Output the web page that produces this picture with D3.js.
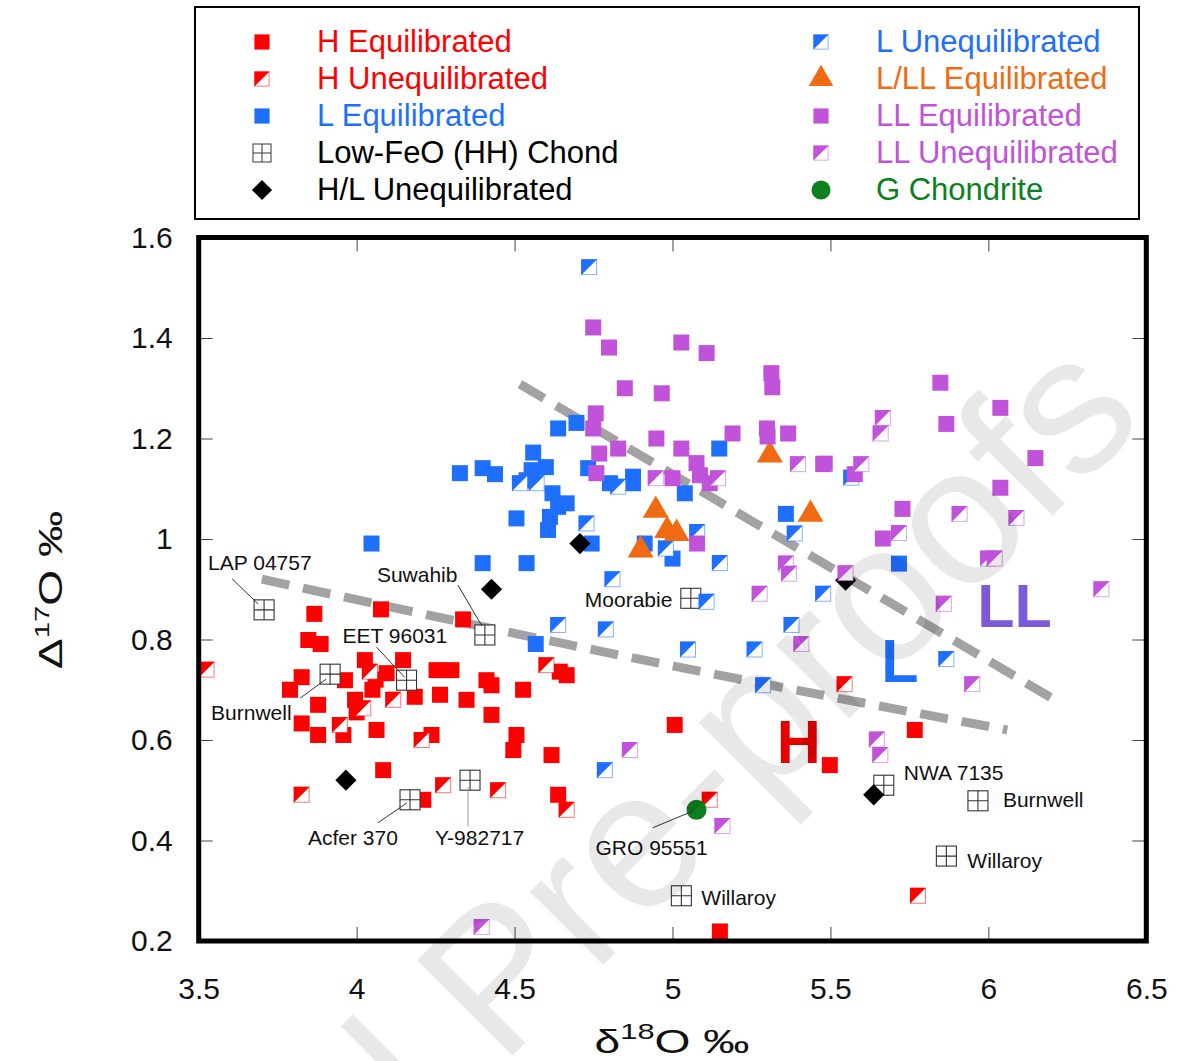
<!DOCTYPE html>
<html>
<head>
<meta charset="utf-8">
<script src="https://cdn.jsdelivr.net/npm/d3@7"></script>
<style>
  body { margin: 0; background: #fff; }
  svg { display: block; font-family: "Liberation Sans", Arial, sans-serif; }
</style>
</head>
<body>
<svg id="chart" width="1178" height="1061"></svg>
<script>
// ---- data (d18O, D17O) ----
const hEquil = [[3.866,0.851],[4.077,0.860],[4.337,0.840],[3.847,0.799],[3.886,0.791],[4.026,0.759],[4.147,0.759],
  [4.253,0.739],[4.30,0.739],[3.826,0.725],[3.789,0.700],[3.963,0.719],[4.095,0.733],[4.06,0.72],[4.05,0.70],[4.0,0.655],
  [3.878,0.670],[3.995,0.680],[4.184,0.686],[4.264,0.690],[4.348,0.680],[4.411,0.719],[4.427,0.709],[4.527,0.700],
  [4.427,0.650],[3.826,0.633],[3.878,0.610],[3.958,0.610],[4.063,0.620],[4.237,0.610],[4.506,0.610],[4.496,0.580],
  [4.617,0.570],[4.643,0.736],[4.665,0.729],[4.084,0.540],[4.211,0.481],[4.638,0.491],[5.007,0.630],[5.498,0.550],
  [5.767,0.620],[5.150,0.219]];
const hUnequil = [[3.525,0.74],[4.042,0.736],[4.021,0.663],[4.116,0.68],[3.947,0.63],[4.206,0.60],[4.601,0.749],
  [4.274,0.51],[4.448,0.50],[3.826,0.491],[4.665,0.461],[5.118,0.481],[5.545,0.711],[5.777,0.29]];
const lEquil = [[4.047,0.991],[4.327,1.131],[4.399,1.141],[4.438,1.129],[4.559,1.172],[4.599,1.143],[4.554,1.137],
  [4.638,1.22],[4.696,1.231],[4.733,1.141],[4.620,1.091],[4.665,1.071],[4.638,1.064],[4.506,1.041],[4.612,1.044],
  [4.606,1.018],[4.538,1.117],[4.802,1.111],[4.875,1.111],[4.875,1.124],[5.039,1.091],[5.148,1.18],[4.744,0.991],
  [4.399,0.952],[4.538,0.952],[4.912,0.991],[5.0,0.961],[5.359,1.05],[5.717,0.951],[4.567,0.791]];
const lUnequil = [[4.736,1.541],[4.517,1.111],[4.570,1.111],[4.828,1.104],[4.728,1.031],[4.81,0.92],[4.979,0.981],
  [5.078,1.014],[5.15,0.952],[5.108,0.875],[5.387,1.011],[5.477,0.891],[4.638,0.829],[4.789,0.82],[5.049,0.78],
  [5.26,0.78],[5.377,0.829],[5.287,0.709],[4.786,0.54],[5.867,0.761],[5.566,1.122]];
const lowFeO = [[3.707,0.859],[4.406,0.809],[4.158,0.719],[3.916,0.731],[4.169,0.481],[4.359,0.52],[5.058,0.882],
  [5.028,0.29],[5.669,0.51],[5.967,0.479],[5.867,0.369]];
const lowFeONames = ["LAP 04757","Suwahib","EET 96031","Burnwell","Acfer 370","Y-982717","Moorabie","Willaroy",
  "NWA 7135","Burnwell","Willaroy"];
const hlUnequil = [[3.966,0.52],[4.427,0.90],[4.707,0.991],[5.548,0.918],[5.637,0.491]];
const lllEquil = [[5.308,1.167],[4.947,1.057],[4.983,1.017],[5.013,1.011],[4.899,0.978],[5.437,1.049]];
const llEquil = [[4.749,1.421],[4.799,1.381],[5.028,1.391],[5.108,1.37],[5.313,1.33],[5.316,1.302],[4.849,1.30],
  [4.966,1.29],[4.757,1.25],[4.749,1.22],[4.768,1.17],[4.828,1.18],[4.759,1.131],[4.949,1.20],[5.028,1.18],
  [5.076,1.151],[5.087,1.127],[5.0,1.121],[5.19,1.21],[5.299,1.22],[5.301,1.204],[5.366,1.21],[5.477,1.149],
  [5.118,1.111],[5.078,0.991],[5.848,1.311],[6.038,1.261],[5.867,1.229],[6.149,1.161],[6.038,1.102],[5.728,1.06],
  [5.666,1.001],[5.482,1.15],[5.577,1.129]];
const llUnequil = [[4.947,1.121],[5.144,1.121],[5.397,1.149],[5.359,0.951],[5.369,0.931],[5.276,0.891],[5.408,0.791],
  [5.548,0.932],[5.666,1.241],[5.659,1.21],[5.598,1.149],[5.717,1.012],[5.909,1.05],[6.089,1.042],[5.999,0.961],
  [6.02,0.961],[5.859,0.871],[6.358,0.90],[5.949,0.711],[5.647,0.601],[5.658,0.57],[4.865,0.58],[5.158,0.429],
  [4.396,0.228]];
const gChondrite = [[5.076,0.461]];
const gNames = ["GRO 95551"];

// group boundaries (dashed)
const boundaryHL = [[3.70,0.92],[5.02,0.745],[6.06,0.62]];
const boundaryLLL = [[4.517,1.308],[6.21,0.68]];

// big group letters: [d18O, D17O] of the text baseline centre
const groupLabels = ["H", "L", "LL"];
const groupLabelPos = [[5.40,0.554],[5.72,0.715],[6.083,0.825]];

const xTicks = [3.5,4,4.5,5,5.5,6,6.5];
const xTickLabels = ["3.5","4","4.5","5","5.5","6","6.5"];
const yTicks = [0.2,0.4,0.6,0.8,1.0,1.2,1.4,1.6];
const yTickLabels = ["0.2","0.4","0.6","0.8","1","1.2","1.4","1.6"];

const legendLeft = ["H Equilibrated","H Unequilibrated","L Equilibrated","Low-FeO (HH) Chond","H/L Unequilibrated"];
const legendRight = ["L Unequilibrated","L/LL Equilibrated","LL Equilibrated","LL Unequilibrated","G Chondrite"];

// colours
const RED = "#ff0000", BLUE = "#1f6fff", PURPLE = "#c053d9", ORANGE = "#f06a12", GREEN = "#0b8020";
const groupColors = ["#e60000", BLUE, "#7b5ad9"];

const svg = d3.select("#chart");
const x = d3.scaleLinear().domain([3.5, 6.5]).range([198.7, 1146.3]);
const y = d3.scaleLinear().domain([0.2, 1.6]).range([941, 237.5]);

// marker painter
function marker(g, type, color) {
  if (type === "sq") {
    g.append("rect").attr("x", -8).attr("y", -8).attr("width", 16).attr("height", 16).attr("fill", color);
  } else if (type === "half") {
    g.append("rect").attr("x", -7.5).attr("y", -7.5).attr("width", 15).attr("height", 15)
      .attr("fill", "#fff").attr("stroke", color).attr("stroke-opacity", 0.55).attr("stroke-width", 1);
    g.append("path").attr("d", "M-8,-8H8L-8,8Z").attr("fill", color);
  } else if (type === "cross") {
    g.append("rect").attr("x", -10).attr("y", -10).attr("width", 20).attr("height", 20)
      .attr("fill", "#fff").attr("stroke", "#333").attr("stroke-width", 1.1);
    g.append("path").attr("d", "M0,-10V10M-10,0H10").attr("stroke", "#333").attr("stroke-width", 1.1);
  } else if (type === "diamond") {
    g.append("rect").attr("x", -7.5).attr("y", -7.5).attr("width", 15).attr("height", 15)
      .attr("transform", "rotate(45)").attr("fill", "#000");
  } else if (type === "tri") {
    g.append("path").attr("d", d3.symbol(d3.symbolTriangle, 290)()).attr("fill", color);
  } else if (type === "circle") {
    g.append("circle").attr("r", 10).attr("fill", color);
  }
}

const series = [
  { data: hEquil, type: "sq", color: RED },
  { data: hUnequil, type: "half", color: RED },
  { data: lowFeO, type: "cross", color: "#333" },
  { data: lEquil, type: "sq", color: BLUE },
  { data: lUnequil, type: "half", color: BLUE },
  { data: hlUnequil, type: "diamond", color: "#000" },
  { data: lllEquil, type: "tri", color: ORANGE },
  { data: llEquil, type: "sq", color: PURPLE },
  { data: llUnequil, type: "half", color: PURPLE },
  { data: gChondrite, type: "circle", color: GREEN }
];

// ---- legend ----
const legend = svg.append("g");
legend.append("rect").attr("x", 195).attr("y", 7).attr("width", 944).attr("height", 212)
  .attr("fill", "#fff").attr("stroke", "#000").attr("stroke-width", 2);
const legendStyle = [
  [{ type: "sq", color: RED }, { type: "half", color: RED }, { type: "sq", color: BLUE },
   { type: "cross", color: "#333" }, { type: "diamond", color: "#000" }],
  [{ type: "half", color: BLUE }, { type: "tri", color: ORANGE }, { type: "sq", color: PURPLE },
   { type: "half", color: PURPLE }, { type: "circle", color: GREEN }]
];
const legendTextColor = [[RED, RED, BLUE, "#000", "#000"], [BLUE, ORANGE, PURPLE, PURPLE, GREEN]];
[legendLeft, legendRight].forEach((labels, col) => {
  const mx = col === 0 ? 262 : 821, tx = col === 0 ? 317 : 876;
  labels.forEach((lab, i) => {
    const cy = 42 + i * 37;
    const st = legendStyle[col][i];
    const g = legend.append("g").attr("transform", `translate(${mx},${cy}) scale(${st.type === "cross" ? 0.9 : 0.95})`);
    marker(g, st.type, st.color);
    legend.append("text").attr("x", tx).attr("y", cy + 10).attr("font-size", 31)
      .attr("fill", legendTextColor[col][i]).text(lab);
  });
});

// ---- axes (ticks inside on all sides) ----
const axG = svg.append("g");
const yAxis = d3.axisLeft(y).tickValues(yTicks).tickSizeInner(-14).tickSizeOuter(0).tickPadding(26)
  .tickFormat((d, i) => yTickLabels[i]);
const xAxis = d3.axisBottom(x).tickValues(xTicks).tickSizeInner(-14).tickSizeOuter(0).tickPadding(37)
  .tickFormat((d, i) => xTickLabels[i]);
axG.append("g").attr("transform", `translate(${x.range()[0]},0)`).call(yAxis);
axG.append("g").attr("transform", `translate(0,${y.range()[0]})`).call(xAxis);
axG.append("g").attr("transform", `translate(${x.range()[1]},0)`)
  .call(d3.axisRight(y).tickValues(yTicks).tickSizeInner(-14).tickSizeOuter(0).tickFormat(""));
axG.append("g").attr("transform", `translate(0,${y.range()[1]})`)
  .call(d3.axisTop(x).tickValues(xTicks).tickSizeInner(-14).tickSizeOuter(0).tickFormat(""));
axG.selectAll(".domain").remove();
axG.selectAll(".tick line").attr("stroke", "#444");
axG.selectAll(".tick text").attr("font-size", 30).attr("fill", "#111")
  .attr("font-family", "'Liberation Sans', Arial, sans-serif");

// ---- dashed boundaries ----
const line = d3.line().x(d => x(d[0])).y(d => y(d[1])).curve(d3.curveMonotoneX);
[boundaryHL, boundaryLLL].forEach(b => {
  svg.append("path").attr("d", line(b)).attr("fill", "none").attr("stroke", "#a2a2a2")
    .attr("stroke-width", 9).attr("stroke-dasharray", "28 14");
});

// ---- region labels ----
svg.append("g").selectAll("text").data(groupLabels).join("text")
  .attr("x", (d, i) => x(groupLabelPos[i][0])).attr("y", (d, i) => y(groupLabelPos[i][1]))
  .attr("font-size", 61).attr("font-weight", "bold").attr("text-anchor", "middle")
  .attr("fill", (d, i) => groupColors[i]).text(d => d);

// ---- points ----
series.forEach(s => {
  svg.append("g").selectAll("g").data(s.data).join("g")
    .attr("transform", d => `translate(${x(d[0])},${y(d[1])})`)
    .each(function () { marker(d3.select(this), s.type, s.color); });
});

// ---- annotations ----
const annot = [
  { dx: -56, dy: -40, ln: [-32, -31, -6, -6] },
  { dx: -108, dy: -53, ln: [-27, -50, -3, -9] },
  { dx: -64, dy: -37, ln: [-30, -33, -2, -3] },
  { dx: -119, dy: 46, ln: [-30, 24, -4, 5] },
  { dx: -102, dy: 45, ln: [-32, 23, -3, 3] },
  { dx: -35, dy: 65, ln: [-2, 7, -2, 46], grey: true },
  { dx: -106, dy: 9 },
  { dx: 20, dy: 9 },
  { dx: 20, dy: -5 },
  { dx: 25, dy: 6 },
  { dx: 21, dy: 12 }
];
const annG = svg.append("g");
function annotate(p, name, a) {
  const px = x(p[0]), py = y(p[1]);
  if (a.ln) {
    annG.append("line").attr("x1", px + a.ln[0]).attr("y1", py + a.ln[1]).attr("x2", px + a.ln[2]).attr("y2", py + a.ln[3])
      .attr("stroke", a.grey ? "#999" : "#333").attr("stroke-width", 1);
  }
  annG.append("text").attr("x", px + a.dx).attr("y", py + a.dy).attr("font-size", 21).attr("fill", "#111").text(name);
}
lowFeO.forEach((p, i) => annotate(p, lowFeONames[i], annot[i]));
annotate(gChondrite[0], gNames[0], { dx: -101, dy: 45, ln: [-44, 18, -3, 1] });

// ---- frame ----
svg.append("rect").attr("x", 198.7).attr("y", 237.5).attr("width", 947.6).attr("height", 703.5)
  .attr("fill", "none").attr("stroke", "#000").attr("stroke-width", 5);

// ---- axis titles ----
const yt = svg.append("text").attr("transform", "translate(62,590) rotate(-90) scale(1.4,1)")
  .attr("text-anchor", "middle").attr("font-size", 33).attr("fill", "#111");
yt.append("tspan").text("\u0394");
yt.append("tspan").attr("font-size", 21).attr("dy", -13).text("17");
yt.append("tspan").attr("dy", 13).text("O \u2030");
const xt = svg.append("text").attr("transform", "translate(672,1053) scale(1.4,1)")
  .attr("text-anchor", "middle").attr("font-size", 33).attr("fill", "#111");
xt.append("tspan").text("\u03b4");
xt.append("tspan").attr("font-size", 22).attr("dy", -14).text("18");
xt.append("tspan").attr("dy", 14).text("O \u2030");

// ---- watermark ----
svg.append("text").attr("transform", "translate(1148,420) rotate(-45)").attr("text-anchor", "end")
  .attr("font-size", 196).attr("fill", "#000").attr("fill-opacity", 0.09).text("Journal Pre-proofs");
</script>
</body>
</html>
